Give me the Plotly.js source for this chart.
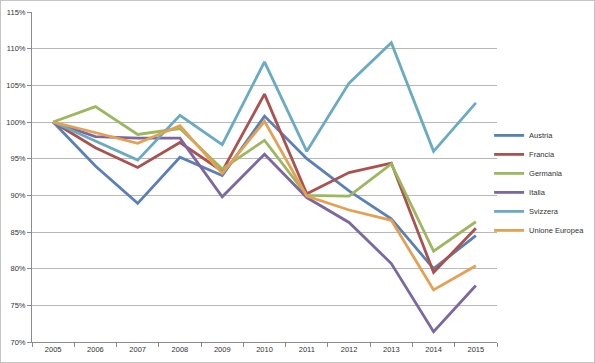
<!DOCTYPE html>
<html>
<head>
<meta charset="utf-8">
<script src="https://cdn.plot.ly/plotly-3.0.1.min.js"></script>
<style>
  html, body { margin: 0; padding: 0; background: #fff; }
  #wrap { width: 593px; height: 361px; border: 1px solid #c4c4c4; }
  #chart { width: 593px; height: 361px; }
</style>
</head>
<body>
<div id="wrap"><div id="chart"></div></div>
<script>
const years = ["2005","2006","2007","2008","2009","2010","2011","2012","2013","2014","2015"];
const austria  = [100, 94.0, 88.9, 95.2, 92.7, 100.8, 95.0, 90.6, 86.8, 80.0, 84.5];
const francia  = [100, 96.5, 93.8, 97.2, 93.3, 103.8, 90.2, 93.1, 94.4, 79.5, 85.5];
const germania = [100, 102.1, 98.3, 99.1, 93.6, 97.5, 90.0, 89.9, 94.3, 82.4, 86.4];
const italia   = [100, 98.0, 97.8, 97.8, 89.8, 95.6, 89.7, 86.3, 80.7, 71.4, 77.7];
const svizzera = [100, 97.4, 94.8, 100.9, 96.9, 108.2, 96.0, 105.3, 110.8, 96.0, 102.6];
const ue       = [100, 98.6, 97.1, 99.5, 93.0, 100.1, 89.9, 88.0, 86.6, 77.1, 80.4];
const yTicks = [70, 75, 80, 85, 90, 95, 100, 105, 110, 115];
const yTickText = ["70%","75%","80%","85%","90%","95%","100%","105%","110%","115%"];

const series = [
  {name: "Austria", y: austria, color: "#5a80ba"},
  {name: "Francia", y: francia, color: "#ad514e"},
  {name: "Germania", y: germania, color: "#9cb85e"},
  {name: "Italia", y: italia, color: "#7d67a1"},
  {name: "Svizzera", y: svizzera, color: "#68abc2"},
  {name: "Unione Europea", y: ue, color: "#e6a052"}
];

const traces = series.map(s => ({
  type: "scatter",
  mode: "lines",
  name: s.name,
  x: years,
  y: s.y,
  line: {color: s.color, width: 2.8}
}));

const font = {family: "Liberation Sans, Arial, sans-serif", size: 7.5, color: "#333"};

const layout = {
  width: 593, height: 361,
  margin: {l: 31, r: 97, t: 11, b: 20, pad: 0, autoexpand: false},
  paper_bgcolor: "#fff",
  plot_bgcolor: "#fff",
  font: font,
  showlegend: true,
  legend: {
    x: 0.983, xanchor: "left",
    y: 0.67, yanchor: "top",
    font: {family: font.family, size: 7.5, color: "#333"},
    itemwidth: 30,
    tracegroupgap: 0,
    bgcolor: "rgba(0,0,0,0)"
  },
  xaxis: {
    type: "category",
    range: [-0.5, 10.5],
    showgrid: false,
    showline: true,
    linecolor: "#8c8c8c",
    linewidth: 1,
    ticks: "outside",
    tickson: "boundaries",
    ticklen: 4,
    tickcolor: "#8c8c8c",
    tickfont: font,
    zeroline: false,
    fixedrange: true
  },
  yaxis: {
    range: [70, 115],
    tickvals: yTicks,
    ticktext: yTickText,
    showgrid: true,
    gridcolor: "#b8b8b8",
    gridwidth: 1,
    showline: true,
    linecolor: "#8c8c8c",
    ticks: "outside",
    ticklen: 4,
    tickcolor: "#8c8c8c",
    tickfont: font,
    zeroline: false,
    fixedrange: true
  }
};

Plotly.newPlot("chart", traces, layout, {displayModeBar: false, staticPlot: true});
</script>
</body>
</html>
